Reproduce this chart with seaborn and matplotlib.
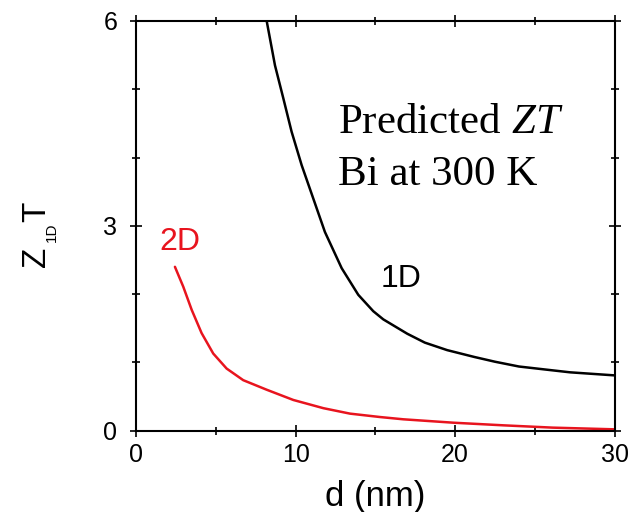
import matplotlib
matplotlib.use("Agg")
import matplotlib.pyplot as plt
import seaborn as sns
import pandas as pd
from matplotlib.ticker import MultipleLocator

# Data
d_1d = [8.19, 8.71, 9.23, 9.75, 10.38, 11.11, 11.84, 12.89, 13.93, 14.87, 15.5,
        17.0, 18.1, 19.5, 21.2, 22.5, 24.0, 25.5, 27.2, 30.0]
zt_1d = [6.0, 5.35, 4.87, 4.38, 3.89, 3.40, 2.91, 2.38, 1.99, 1.75, 1.63,
         1.42, 1.29, 1.18, 1.08, 1.01, 0.94, 0.90, 0.855, 0.81]
d_2d = [2.44, 2.96, 3.49, 4.11, 4.84, 5.68, 6.72, 8.19, 9.86, 11.74, 13.41,
        15.3, 16.75, 19.9, 23.0, 26.1, 30.0]
zt_2d = [2.40, 2.11, 1.77, 1.43, 1.13, 0.91, 0.74, 0.60, 0.45, 0.33, 0.25,
         0.20, 0.167, 0.117, 0.079, 0.045, 0.02]
x_ticks = [0, 10, 20, 30]
y_ticks = [0, 3, 6]

sns.set_style("ticks")
plt.rcParams['font.family'] = ['Liberation Sans', 'DejaVu Sans']
plt.rcParams['mathtext.fontset'] = 'custom'
plt.rcParams['mathtext.it'] = 'Liberation Serif:italic'
plt.rcParams['mathtext.rm'] = 'Liberation Serif'
plt.rcParams['text.color'] = 'black'
plt.rcParams['axes.labelcolor'] = 'black'

W, H = 641, 512
fig = plt.figure(figsize=(W / 100, H / 100), dpi=100)
ax = fig.add_axes([136 / W, 1 - 430.7 / H, (614.7 - 136) / W, (430.7 - 21) / H])

df1 = pd.DataFrame({"d": d_1d, "zt": zt_1d})
df2 = pd.DataFrame({"d": d_2d, "zt": zt_2d})
sns.lineplot(data=df1, x="d", y="zt", ax=ax, color="black", lw=1.8, sort=False)
sns.lineplot(data=df2, x="d", y="zt", ax=ax, color="#e8141e", lw=1.8, sort=False)

ax.set_xlim(0, 30)
ax.set_ylim(0, 6)
ax.set_xticks(x_ticks)
ax.set_yticks(y_ticks)
ax.xaxis.set_minor_locator(MultipleLocator(5))
ax.yaxis.set_minor_locator(MultipleLocator(1))
for s in ax.spines.values():
    s.set_visible(True)
    s.set_linewidth(1.5)
    s.set_color("black")
ax.tick_params(which="both", direction="inout", top=True, right=True, colors="black", width=1.2)
ax.tick_params(which="major", length=9, labelsize=18)
ax.tick_params(which="minor", length=6)
ax.tick_params(axis="x", which="major", pad=4.5)
ax.tick_params(axis="y", which="major", pad=9)

ax.set_xlabel("d (nm)", fontsize=25, va="top", color="black")
ax.xaxis.set_label_coords(0.5, -0.12)
ax.set_ylabel("")

# y label built from pieces: Z, small subscript 1D, T (rotated)
kw = dict(rotation=90, rotation_mode="anchor", ha="left", va="baseline", color="black")
fig.text(45 / W, 1 - 267 / H, "Z", fontsize=24, **kw)
fig.text(55.5 / W, 1 - 242 / H, "1D", fontsize=11, **kw)
fig.text(45 / W, 1 - 222.5 / H, "T", fontsize=24, **kw)

ax.text(2.76, 2.77, "2D", color="#e8141e", fontsize=23, ha="center", va="center")
ax.text(16.6, 2.22, "1D", color="black", fontsize=23, ha="center", va="center")
serif = ["Liberation Serif", "DejaVu Serif"]
ax.text(12.68, 4.354, "Predicted $\\mathit{ZT}$", fontsize=31, family=serif,
        ha="left", va="baseline", color="black")
ax.text(12.68, 3.597, "Bi at 300 K", fontsize=31, family=serif,
        ha="left", va="baseline", color="black")

fig.savefig("out.png", dpi=100)
